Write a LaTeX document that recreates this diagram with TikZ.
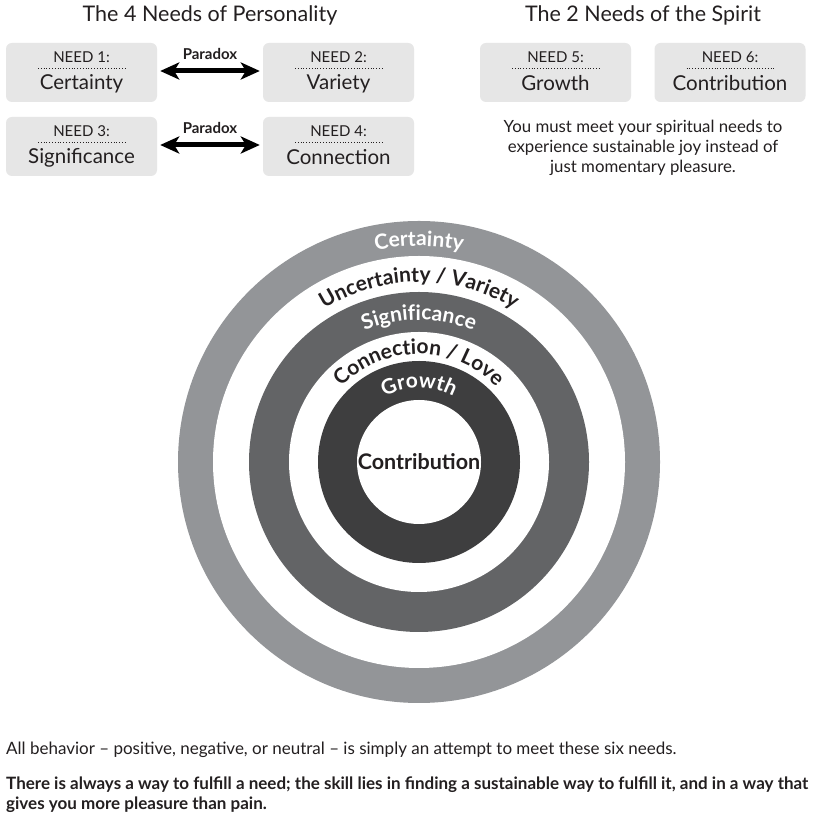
\documentclass[tikz,border=0pt]{standalone}
\usepackage{fontspec}
\setmainfont{Lato}
\usetikzlibrary{arrows.meta,positioning,decorations.text}
\definecolor{boxgray}{RGB}{230,230,230}
\definecolor{ringouter}{RGB}{147,149,152}
\definecolor{ringmid}{RGB}{99,100,102}
\definecolor{ringinner}{RGB}{62,62,63}
\definecolor{inkdark}{RGB}{35,31,32}
\newcommand{\ringfont}{\fontsize{21}{21}\selectfont\bfseries}

\begin{document}
\begin{tikzpicture}[x=1pt,y=1pt,text=inkdark,font=\fontsize{16.8}{20}\selectfont,
    needbox/.style={fill=boxgray,rounded corners=6pt,minimum width=151pt,
                    minimum height=59pt,inner sep=0pt},
    needtag/.style={font=\fontsize{15}{15}\selectfont,inner sep=0pt},
    needname/.style={font=\fontsize{20.5}{20.5}\selectfont,inner sep=0pt},
    paradox/.style={line width=5pt,
                    {Stealth[length=19pt,width=17pt,inset=5pt]}-{Stealth[length=19pt,width=17pt,inset=5pt]},
                    shorten <=3pt,shorten >=3pt},
    paradoxlabel/.style={font=\fontsize{15}{15}\selectfont\bfseries,inner sep=0pt},
    heading/.style={font=\fontsize{21.5}{21.5}\selectfont,inner sep=0pt},
    ringlabel/.style={decorate,decoration={text along path,text align=center}}]
    \fill[white] (0,0) rectangle (837,824);
    \useasboundingbox (0,0) rectangle (837,824);

    % headings
    \node[heading] (perstitle) at (210,809) {The 4 Needs of Personality};
    \node[heading] (spirtitle) at (643,809) {The 2 Needs of the Spirit};

    % the six need boxes
    \foreach \i/\x/\y/\nm in {1/81.5/751.5/Certainty, 2/338.5/751.5/Variety,
        3/81.5/677.5/Significance, 4/338.5/677.5/Connection,
        5/555.5/751.5/Growth, 6/730/751.5/Contribution} {
      \node[needbox] (n\i) at (\x,\y) {};
      \node[needtag] (tag\i) at ([yshift=15.5]n\i.center) {NEED \i:};
      \node[needname] (name\i) at ([yshift=-11]n\i.center) {\nm};
      \draw[inkdark,line width=0.8pt,dotted] ([xshift=-43.5,yshift=4.5]n\i.center)
        -- ([xshift=43.5,yshift=4.5]n\i.center);
    }

    % paradox arrows
    \draw[paradox] ([yshift=1.5]n1.east) -- node[above=9pt,paradoxlabel] (px1) {Paradox} ([yshift=1.5]n2.west);
    \draw[paradox] ([yshift=1.5]n3.east) -- node[above=9pt,paradoxlabel] (px2) {Paradox} ([yshift=1.5]n4.west);

    \node[align=center,inner sep=0pt] (spirnote) at (643,676)
      {You must meet your spiritual needs to\\
       experience sustainable joy instead of\\
       just momentary pleasure.};

    % rings
    \coordinate (c) at (419,362);
    \fill[ringouter] (c) circle[radius=241pt];
    \fill[white] (c) circle[radius=206pt];
    \fill[ringmid] (c) circle[radius=170pt];
    \fill[white] (c) circle[radius=130pt];
    \fill[ringinner] (c) circle[radius=101pt];
    \fill[white] (c) circle[radius=62pt];

    \path[ringlabel,decoration={text={|\ringfont|Certainty},text color=white}]
      ([shift={(180:216pt)}]c) arc[start angle=180,end angle=0,radius=216pt];
    \path[ringlabel,decoration={text={|\ringfont|Uncertainty / Variety},text color=inkdark}]
      ([shift={(180:180pt)}]c) arc[start angle=180,end angle=0,radius=180pt];
    \path[ringlabel,decoration={text={|\ringfont|Significance},text color=white}]
      ([shift={(180:142pt)}]c) arc[start angle=180,end angle=0,radius=142pt];
    \path[ringlabel,decoration={text={|\ringfont|Connection / Love},text color=inkdark}]
      ([shift={(180:108pt)}]c) arc[start angle=180,end angle=0,radius=108pt];
    \path[ringlabel,decoration={text={|\ringfont|Growth},text color=white}]
      ([shift={(180:74pt)}]c) arc[start angle=180,end angle=0,radius=74pt];
    \node[font=\fontsize{21.5}{21.5}\selectfont\bfseries] (core) at (c) {Contribution};

    % footnotes
    \node[anchor=west,inner sep=0pt,font=\fontsize{17}{20}\selectfont] (note1) at (6,74)
      {All behavior -- positive, negative, or neutral -- is simply an attempt to meet these six needs.};
    \node[anchor=west,inner sep=0pt,align=left,font=\fontsize{17}{20}\selectfont\bfseries] (note2) at (6,29)
      {There is always a way to fulfill a need; the skill lies in finding a sustainable way to fulfill it, and in a way that\\
       gives you more pleasure than pain.};
\end{tikzpicture}
\end{document}
